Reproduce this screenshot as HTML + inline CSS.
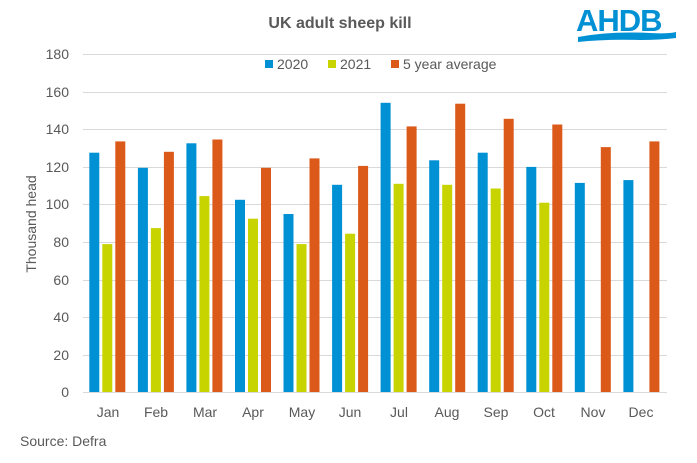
<!DOCTYPE html><html><head><style>body{margin:0;background:#fff}svg{display:block;font-family:"Liberation Sans",sans-serif}</style></head><body>
<svg width="697" height="463" viewBox="0 0 697 463">
<text x="340" y="28" text-anchor="middle" font-size="16" font-weight="bold" fill="#595959">UK adult sheep kill</text>
<g fill="#0090d4"><text x="576" y="31" font-size="31" font-weight="bold" letter-spacing="-1">AHDB</text></g>
<path d="M578 37 Q610 31 650 33 Q668 34 676 32 L676 38 Q660 40 640 40 Q605 39 578 42Z" fill="#0090d4"/>
<g stroke="#d9d9d9" stroke-width="1">
<line x1="83" x2="667" y1="54.5" y2="54.5"/><line x1="83" x2="667" y1="92.5" y2="92.5"/><line x1="83" x2="667" y1="129.5" y2="129.5"/><line x1="83" x2="667" y1="167.5" y2="167.5"/><line x1="83" x2="667" y1="204.5" y2="204.5"/><line x1="83" x2="667" y1="242.5" y2="242.5"/><line x1="83" x2="667" y1="280.5" y2="280.5"/><line x1="83" x2="667" y1="317.5" y2="317.5"/><line x1="83" x2="667" y1="355.5" y2="355.5"/><line x1="83" x2="667" y1="392.5" y2="392.5"/></g>
<g font-size="14" fill="#595959" text-anchor="end">
<text x="69" y="59">180</text><text x="69" y="97">160</text><text x="69" y="134">140</text><text x="69" y="172">120</text><text x="69" y="209">100</text><text x="69" y="247">80</text><text x="69" y="285">60</text><text x="69" y="322">40</text><text x="69" y="360">20</text><text x="69" y="397">0</text></g>
<text transform="translate(36 224) rotate(-90)" text-anchor="middle" font-size="14" fill="#595959">Thousand head</text>
<g fill="#0090d4">
<rect x="89.3" y="152.7" width="10" height="239.3"/><rect x="137.9" y="167.8" width="10" height="224.2"/><rect x="186.4" y="143.3" width="10" height="248.7"/><rect x="235" y="199.8" width="10" height="192.2"/><rect x="283.5" y="214" width="10" height="178"/><rect x="332.1" y="184.8" width="10" height="207.2"/><rect x="380.6" y="102.8" width="10" height="289.2"/><rect x="429.2" y="160.3" width="10" height="231.7"/><rect x="477.7" y="152.7" width="10" height="239.3"/><rect x="526.3" y="166.9" width="10" height="225.1"/><rect x="574.8" y="182.9" width="10" height="209.1"/><rect x="623.4" y="180.1" width="10" height="211.9"/></g>
<g fill="#c8d400">
<rect x="102.3" y="244.1" width="10" height="147.9"/><rect x="150.9" y="228.1" width="10" height="163.9"/><rect x="199.4" y="196.1" width="10" height="195.9"/><rect x="248" y="218.7" width="10" height="173.3"/><rect x="296.5" y="244.1" width="10" height="147.9"/><rect x="345.1" y="233.7" width="10" height="158.3"/><rect x="393.6" y="183.8" width="10" height="208.2"/><rect x="442.2" y="184.8" width="10" height="207.2"/><rect x="490.7" y="188.5" width="10" height="203.5"/><rect x="539.3" y="202.7" width="10" height="189.3"/></g>
<g fill="#dc5a19">
<rect x="115.3" y="141.4" width="10" height="250.6"/><rect x="163.9" y="151.8" width="10" height="240.2"/><rect x="212.4" y="139.5" width="10" height="252.5"/><rect x="261" y="167.8" width="10" height="224.2"/><rect x="309.5" y="158.4" width="10" height="233.6"/><rect x="358.1" y="165.9" width="10" height="226.1"/><rect x="406.6" y="126.4" width="10" height="265.6"/><rect x="455.2" y="103.7" width="10" height="288.3"/><rect x="503.7" y="118.8" width="10" height="273.2"/><rect x="552.3" y="124.5" width="10" height="267.5"/><rect x="600.8" y="147.1" width="10" height="244.9"/><rect x="649.4" y="141.4" width="10" height="250.6"/></g>
<g font-size="14" fill="#595959" text-anchor="middle">
<text x="108" y="417">Jan</text><text x="156" y="417">Feb</text><text x="205" y="417">Mar</text><text x="253" y="417">Apr</text><text x="302" y="417">May</text><text x="350" y="417">Jun</text><text x="399" y="417">Jul</text><text x="447" y="417">Aug</text><text x="496" y="417">Sep</text><text x="544" y="417">Oct</text><text x="593" y="417">Nov</text><text x="641" y="417">Dec</text></g>
<rect x="265" y="60" width="8" height="8" fill="#0090d4"/><text x="277" y="69" font-size="14" fill="#595959">2020</text>
<rect x="328" y="60" width="8" height="8" fill="#c8d400"/><text x="340" y="69" font-size="14" fill="#595959">2021</text>
<rect x="391" y="60" width="8" height="8" fill="#dc5a19"/><text x="403" y="69" font-size="14" fill="#595959">5 year average</text>
<text x="20" y="446" font-size="14" fill="#595959">Source:  Defra</text>
</svg></body></html>
